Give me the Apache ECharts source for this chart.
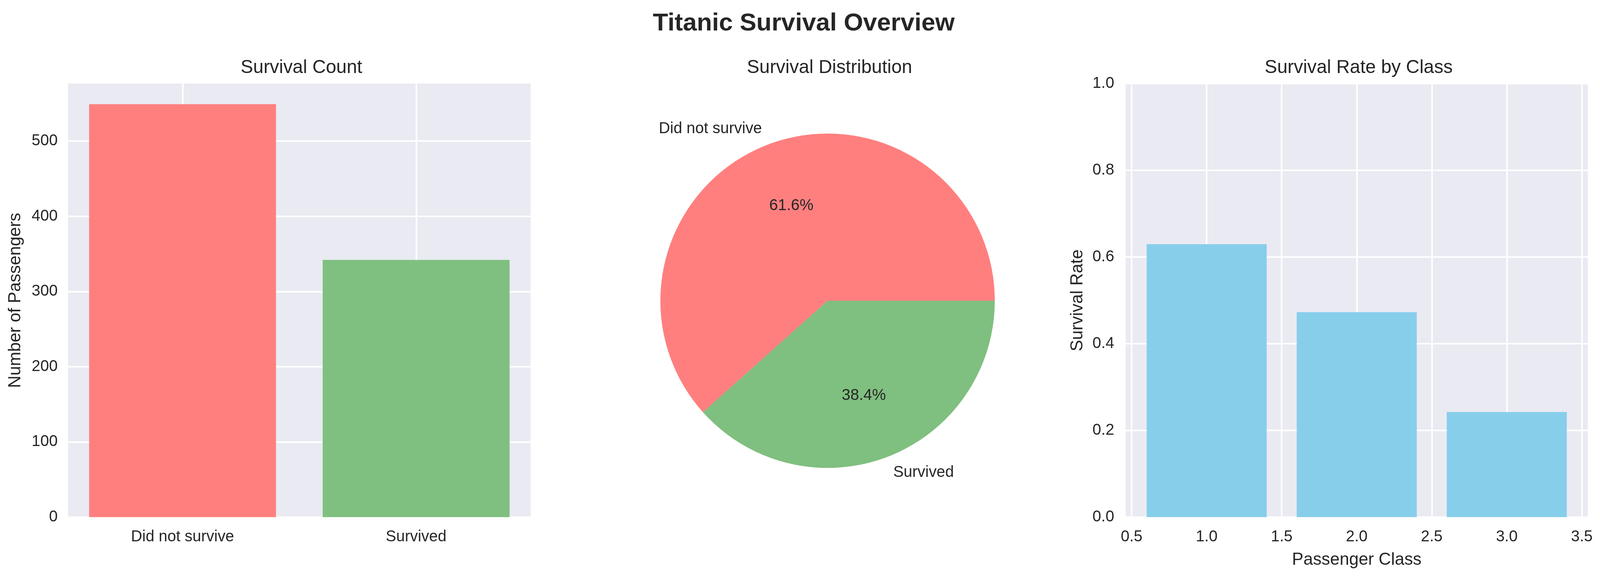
<!DOCTYPE html>
<html>
<head>
<meta charset="utf-8">
<title>Titanic Survival Overview</title>
<script src="https://cdn.jsdelivr.net/npm/echarts@6/dist/echarts.min.js"></script>
<style>
  html, body { margin: 0; padding: 0; background: #ffffff; overflow: hidden; }
  #main { width: 100vw; height: 100vh; }
</style>
</head>
<body>
<div id="main"></div>
<script>
// survival counts
var survivalLabels = ['Did not survive', 'Survived'];
var survivalCounts = [549, 342];
var countTicks = [0, 100, 200, 300, 400, 500];

// survival rate by passenger class
var classValues = [1, 2, 3];
var classRates = [0.6296, 0.4728, 0.2424];
var classTicks = [0.5, 1.0, 1.5, 2.0, 2.5, 3.0, 3.5];
var rateTicks = [0, 0.2, 0.4, 0.6, 0.8, 1.0];

var survivalColors = ['#ff7f7f', '#7fbf7f'];
var rateColor = '#87ceeb';
var textColor = '#262626';
var fontName = '"Liberation Sans", Arial, sans-serif';

var chart = echarts.init(document.getElementById('main'));

// layout was measured on a 4466x1485 canvas, scale it to whatever we get
var sx = chart.getWidth() / 4466;
var sy = chart.getHeight() / 1485;
var sf = Math.sqrt(sx * sy);
function px(v) { return v * sx; }
function py(v) { return v * sy; }
function fz(v) { return v * sf; }

var grids = [
  { left: px(190), top: py(214), width: px(1291), height: py(1110) },
  { left: px(3142), top: py(214), width: px(1290), height: py(1110) }
];
var pieCenter = [px(2310), py(770)];
var pieRadius = fz(447);

function axisStyle(extra) {
  var base = {
    axisLine: { show: false },
    axisTick: { show: false },
    splitLine: { show: true, lineStyle: { color: '#ffffff', width: fz(4) } },
    axisLabel: { color: textColor, fontSize: fz(41.7), fontFamily: fontName },
    nameTextStyle: { color: textColor, fontSize: fz(45.8), fontFamily: fontName }
  };
  return echarts.util.merge(base, extra, true);
}

function subTitle(text, x) {
  return {
    text: text, left: px(x), top: py(145), textAlign: 'center',
    textStyle: { color: textColor, fontSize: fz(50), fontWeight: 'normal', fontFamily: fontName }
  };
}

var countData = survivalCounts.map(function (v, i) {
  return { value: [i, v], itemStyle: { color: survivalColors[i] } };
});
var rateData = classRates.map(function (v, i) {
  return [classValues[i], v];
});

var option = {
  backgroundColor: '#ffffff',
  animation: false,
  title: [
    {
      text: 'Titanic Survival Overview', left: px(2238), top: py(23), textAlign: 'center',
      textStyle: { color: textColor, fontSize: fz(66.7), fontWeight: 'bold', fontFamily: fontName }
    },
    subTitle('Survival Count', 836),
    subTitle('Survival Distribution', 2310),
    subTitle('Survival Rate by Class', 3787)
  ],
  grid: grids.map(function (g) {
    return {
      left: g.left, top: g.top, width: g.width, height: g.height,
      show: true, backgroundColor: '#eaeaf2', borderWidth: 0
    };
  }),
  xAxis: [
    axisStyle({
      gridIndex: 0, type: 'value', min: -0.49, max: 1.49,
      axisTick: { customValues: [0, 1] },
      axisLabel: {
        customValues: [0, 1], margin: py(31),
        formatter: function (v) { return survivalLabels[Math.round(v)]; }
      }
    }),
    axisStyle({
      gridIndex: 1, type: 'value', min: 0.46, max: 3.54,
      name: 'Passenger Class', nameLocation: 'middle', nameGap: py(88),
      axisTick: { customValues: classTicks },
      axisLabel: {
        customValues: classTicks, margin: py(31),
        formatter: function (v) { return v.toFixed(1); }
      }
    })
  ],
  yAxis: [
    axisStyle({
      gridIndex: 0, type: 'value', min: 0, max: 576.45,
      name: 'Number of Passengers', nameLocation: 'middle', nameGap: px(122),
      axisTick: { customValues: countTicks },
      axisLabel: { customValues: countTicks, margin: px(29) }
    }),
    axisStyle({
      gridIndex: 1, type: 'value', min: 0, max: 1,
      name: 'Survival Rate', nameLocation: 'middle', nameGap: px(110),
      axisTick: { customValues: rateTicks },
      axisLabel: {
        customValues: rateTicks, margin: px(32),
        formatter: function (v) { return v.toFixed(1); }
      }
    })
  ],
  series: [
    {
      type: 'bar', xAxisIndex: 0, yAxisIndex: 0,
      barWidth: 0.8 * grids[0].width / 1.98,
      data: countData
    },
    {
      type: 'bar', xAxisIndex: 1, yAxisIndex: 1,
      barWidth: 0.8 * grids[1].width / 3.08,
      itemStyle: { color: rateColor },
      data: rateData
    },
    // invisible pie, only carries the percentage labels at 0.6 r
    {
      type: 'pie', silent: true, center: pieCenter, radius: pieRadius * 1.2,
      startAngle: 0, clockwise: false, percentPrecision: 1,
      itemStyle: { color: 'rgba(0,0,0,0)', borderWidth: 0 },
      emphasis: { disabled: true },
      label: {
        show: true, position: 'inside', formatter: '{d}%',
        color: textColor, fontSize: fz(41.7), fontFamily: fontName
      },
      labelLine: { show: false },
      data: survivalCounts.map(function (v, i) {
        return { name: survivalLabels[i], value: v };
      })
    },
    {
      type: 'pie', center: pieCenter, radius: pieRadius,
      startAngle: 0, clockwise: false, avoidLabelOverlap: false,
      itemStyle: { borderWidth: 0 },
      emphasis: { scale: false },
      label: {
        show: true, position: 'outside', formatter: '{b}', distanceToLabelLine: 0,
        color: textColor, fontSize: fz(41.7), fontFamily: fontName
      },
      labelLine: { show: false, length: pieRadius * 0.1, length2: 0 },
      data: survivalCounts.map(function (v, i) {
        return { name: survivalLabels[i], value: v, itemStyle: { color: survivalColors[i] } };
      })
    }
  ]
};

chart.setOption(option);
</script>
</body>
</html>
